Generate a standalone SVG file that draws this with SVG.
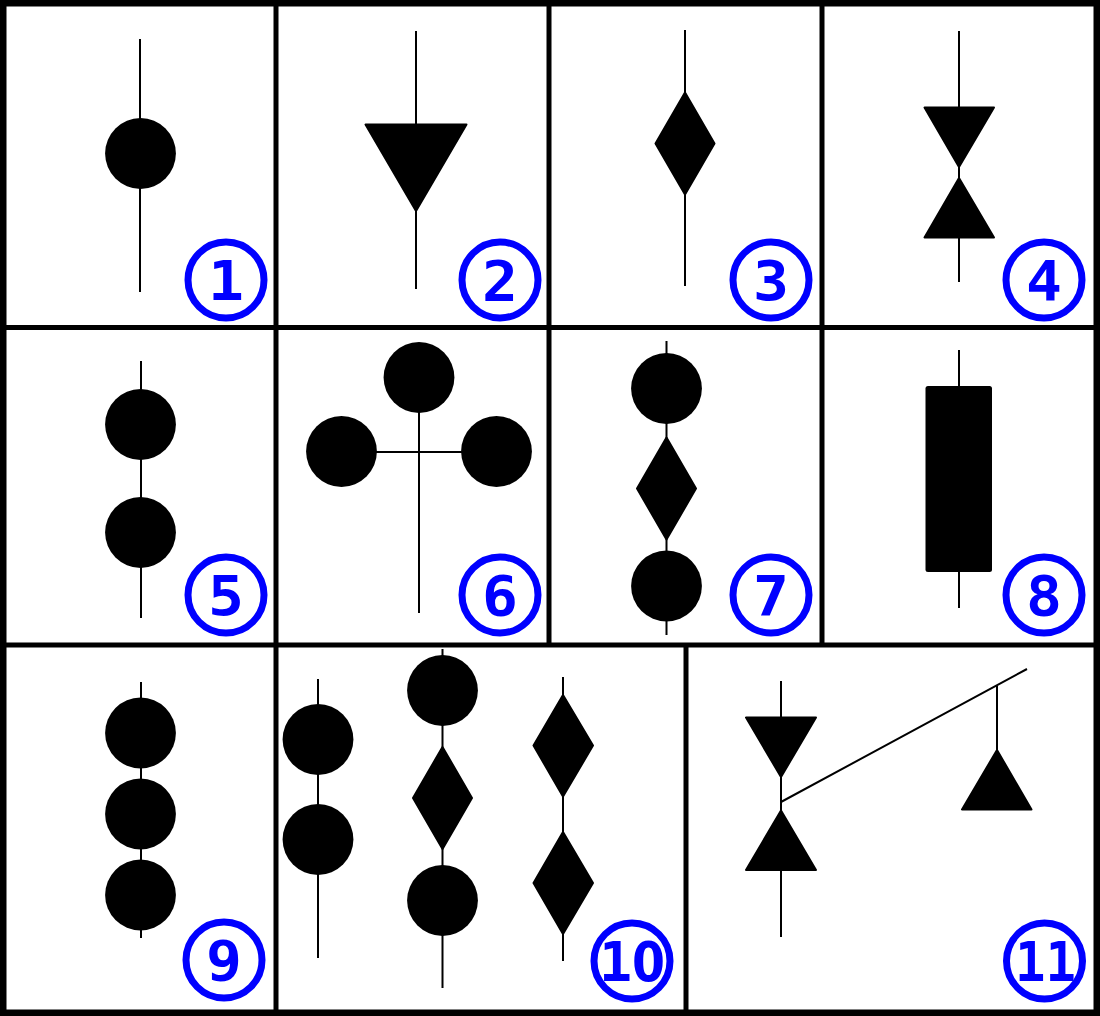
<svg xmlns="http://www.w3.org/2000/svg" width="1100" height="1016" viewBox="0 0 1100 1016">
<style>
.b{fill:none;stroke:#000;stroke-width:5}
.o{fill:none;stroke:#000;stroke-width:7}
.c{stroke:#000;stroke-width:2;fill:none}
.s{fill:#000}
.p{fill:#000;stroke:#000;stroke-width:2;stroke-linejoin:round}
.r{fill:#fff;stroke:#00f;stroke-width:7}
.t{fill:#00f;font-family:"DejaVu Sans Mono",monospace;font-weight:bold;font-size:55px;text-anchor:middle}
.z{font-family:"DejaVu Sans",sans-serif}
</style>
<rect width="1100" height="1016" fill="#fff"/>
<g id="grid">
<path class="b" d="M276 3V1013M549 3V645M822 3V645M686 645V1013M3 327.500H1097M3 645H1097"/>
<rect class="o" x="3" y="3" width="1094" height="1010"/>
</g>
<g id="connectors">
<path class="c" d="M140 39V292M416 31V289M685 30V286M959 31V282M141 361V618M419 378V613M342 452H497M666.500 341V635M959 350V608M141 682V938M318 679V958M442.500 649V988M563 677V961M781 681V937M781 802L1027 669M997 686V780"/>
</g>
<g id="n1"><circle class="s" cx="140.500" cy="153.500" r="35.400"/><circle class="r" cx="226" cy="280" r="38"/><text class="t" x="226" y="300" textLength="36" lengthAdjust="spacingAndGlyphs">1</text></g>
<g id="n2"><polygon class="p" points="365.500,124.500 466.500,124.500 416,211"/><circle class="r" cx="500" cy="280" r="38"/><text class="t" x="500" y="300" textLength="36" lengthAdjust="spacingAndGlyphs">2</text></g>
<g id="n3"><polygon class="p" points="685,92.500 714.500,143.500 685,194.500 655.500,143.500"/><circle class="r" cx="771" cy="280" r="38"/><text class="t" x="771" y="300" textLength="36" lengthAdjust="spacingAndGlyphs">3</text></g>
<g id="n4"><polygon class="p" points="924.500,107.500 994,107.500 959,167"/><polygon class="p" points="924.500,237.500 994,237.500 959,178"/><circle class="r" cx="1044" cy="280" r="38"/><text class="t" x="1044" y="300" textLength="36" lengthAdjust="spacingAndGlyphs">4</text></g>
<g id="n5"><circle class="s" cx="140.500" cy="424.500" r="35.400"/><circle class="s" cx="140.500" cy="532.500" r="35.400"/><circle class="r" cx="226" cy="595" r="38"/><text class="t" x="226" y="615" textLength="36" lengthAdjust="spacingAndGlyphs">5</text></g>
<g id="n6"><circle class="s" cx="419" cy="377.500" r="35.400"/><circle class="s" cx="341.500" cy="451.500" r="35.400"/><circle class="s" cx="496.500" cy="451.500" r="35.400"/><circle class="r" cx="500" cy="595" r="38"/><text class="t" x="500" y="615" textLength="36" lengthAdjust="spacingAndGlyphs">6</text></g>
<g id="n7"><circle class="s" cx="666.500" cy="388.500" r="35.400"/><polygon class="p" points="666.500,437.500 696,488.500 666.500,539.500 637,488.500"/><circle class="s" cx="666.500" cy="586" r="35.400"/><circle class="r" cx="771" cy="595" r="38"/><text class="t" x="771" y="615" textLength="36" lengthAdjust="spacingAndGlyphs">7</text></g>
<g id="n8"><rect class="s" x="925.500" y="386" width="66.500" height="186" rx="2.500"/><circle class="r" cx="1044" cy="595" r="38"/><text class="t" x="1044" y="615" textLength="36" lengthAdjust="spacingAndGlyphs">8</text></g>
<g id="n9"><circle class="s" cx="140.500" cy="733" r="35.400"/><circle class="s" cx="140.500" cy="814" r="35.400"/><circle class="s" cx="140.500" cy="895" r="35.400"/><circle class="r" cx="224" cy="960" r="38"/><text class="t" x="224" y="980" textLength="36" lengthAdjust="spacingAndGlyphs">9</text></g>
<g id="n10"><circle class="s" cx="318" cy="739.500" r="35.400"/><circle class="s" cx="318" cy="839.500" r="35.400"/><circle class="s" cx="442.500" cy="690.500" r="35.400"/><polygon class="p" points="442.500,747 472,798 442.500,849 413,798"/><circle class="s" cx="442.500" cy="900.500" r="35.400"/><polygon class="p" points="563,695 593,745.500 563,796.500 533.500,745.500"/><polygon class="p" points="563,832 593,883 563,934 533.500,883"/><circle class="r" cx="632" cy="961" r="38"/><text class="t" x="632" y="981">1<tspan class="z" textLength="33" lengthAdjust="spacingAndGlyphs">0</tspan></text></g>
<g id="n11"><polygon class="p" points="746,717.500 816,717.500 781,777"/><polygon class="p" points="746,870 816,870 781,810.500"/><polygon class="p" points="962,809.500 1031.500,809.500 997,750"/><circle class="r" cx="1044.500" cy="961" r="38"/><text class="t" x="1045.500" y="981" textLength="61" lengthAdjust="spacingAndGlyphs">11</text></g>
</svg>
